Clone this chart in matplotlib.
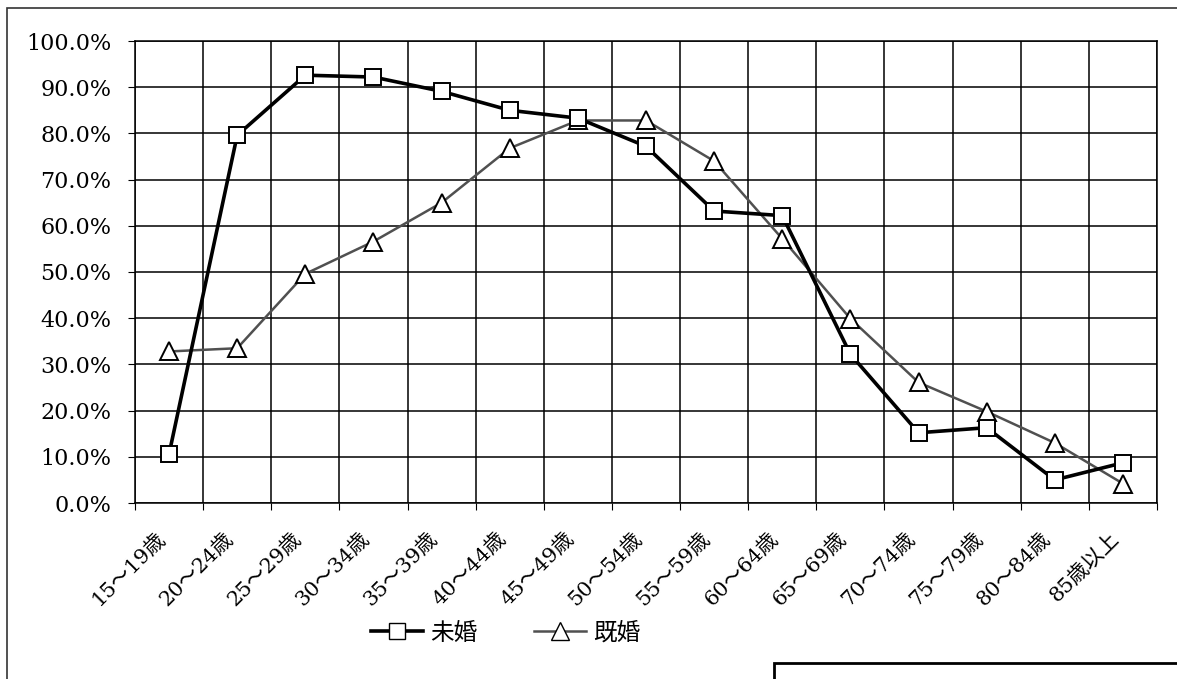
import matplotlib.pyplot as plt
import matplotlib.transforms as mtransforms
from matplotlib.patches import Rectangle
from matplotlib.ticker import PercentFormatter
from matplotlib.lines import Line2D

plt.rcParams['font.family'] = ['DejaVu Serif', 'Noto Sans CJK JP']

# Data
age_groups = ['15～19歳', '20～24歳', '25～29歳', '30～34歳', '35～39歳',
              '40～44歳', '45～49歳', '50～54歳', '55～59歳', '60～64歳',
              '65～69歳', '70～74歳', '75～79歳', '80～84歳', '85歳以上']
unmarried = [10.6, 79.6, 92.6, 92.2, 89.1, 85.0, 83.3, 77.2, 63.2, 62.2,
             32.2, 15.2, 16.3, 5.0, 8.7]
married = [32.8, 33.5, 49.6, 56.6, 65.0, 76.8, 82.8, 82.8, 74.0, 57.2,
           39.9, 26.1, 19.8, 13.0, 4.2]

fig = plt.figure(figsize=(11.77, 6.79), dpi=100)
ax = fig.add_axes([135 / 1177, 1 - 503 / 679, 1022 / 1177, 462 / 679])

x = range(len(age_groups))
ax.plot(x, married, color='#505050', lw=1.8, marker='^', markersize=13,
        markerfacecolor='white', markeredgecolor='black', markeredgewidth=1.4,
        label='既婚', zorder=3)
ax.plot(x, unmarried, color='black', lw=2.6, marker='s', markersize=11,
        markerfacecolor='white', markeredgecolor='black', markeredgewidth=1.4,
        label='未婚', zorder=4)

ax.set_xlim(-0.5, len(age_groups) - 0.5)
ax.set_ylim(0, 100)
ax.set_yticks(range(0, 101, 10))
ax.yaxis.set_major_formatter(PercentFormatter(decimals=1))

# grid lines sit between categories
ax.set_xticks([i - 0.5 for i in range(len(age_groups) + 1)])
ax.set_xticklabels([])
ax.set_xticks(list(x), minor=True)
ax.set_xticklabels(age_groups, minor=True, rotation=45, ha='right',
                   rotation_mode='anchor', fontsize=15)
ax.tick_params(axis='x', which='minor', length=0, pad=14)
ax.tick_params(axis='x', which='major', length=5, color='black')
ax.tick_params(axis='y', length=5, labelsize=16, pad=12)

shift = mtransforms.ScaledTranslation(-14 / 100, -6 / 100, fig.dpi_scale_trans)
for lbl in ax.get_xticklabels(minor=True):
    lbl.set_transform(lbl.get_transform() + shift)

ax.grid(True, which='major', color='black', lw=1.1)
for s in ax.spines.values():
    s.set_color('black')
    s.set_linewidth(1.1)

# legend (unmarried first)
handles = [
    Line2D([], [], color='black', lw=2.6, marker='s', markersize=11,
           markerfacecolor='white', markeredgecolor='black'),
    Line2D([], [], color='#505050', lw=1.8, marker='^', markersize=13,
           markerfacecolor='white', markeredgecolor='black'),
]
fig.legend(handles, ['未婚', '既婚'], loc='center', ncol=2,
           bbox_to_anchor=(0.43, 1 - 633 / 679), frameon=False,
           prop={'family': 'Noto Sans CJK JP', 'size': 17},
           handlelength=2.2, columnspacing=2.4, handletextpad=0.3)

# outer chart border and partial box at bottom right
fig.patches.append(Rectangle((7 / 1177, -0.1), 1.2, 1 - 8 / 679 + 0.1,
                             transform=fig.transFigure, fill=False,
                             edgecolor='#333333', lw=1.2))
fig.patches.append(Rectangle((774 / 1177, -0.1), 0.5, 1 - 663 / 679 + 0.1,
                             transform=fig.transFigure, fill=False,
                             edgecolor='black', lw=2))

fig.savefig('out.png', dpi=100)
